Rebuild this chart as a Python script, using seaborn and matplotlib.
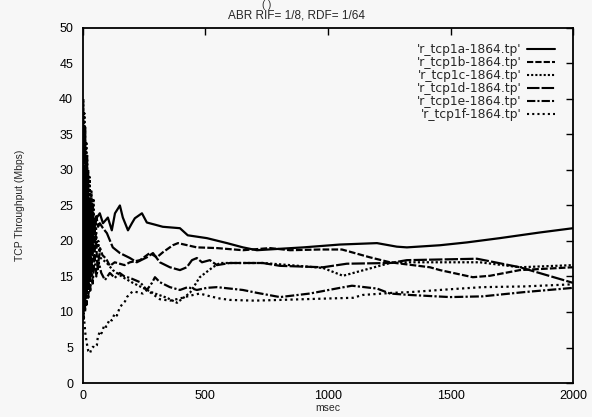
import pandas as pd
import seaborn as sns
import matplotlib.pyplot as plt

# throughput traces (msec, Mbps)
ms_a = [0, 3, 6, 9, 12, 15, 18, 21, 25, 30, 35, 40, 45, 50, 57, 69, 82, 102, 118, 131, 151, 163, 184, 200, 212,
        241, 261, 294, 326, 396, 428, 506, 588, 653, 710, 804, 900, 1049, 1200, 1281, 1322, 1457, 1567, 1701,
        1865, 2000]
tp_a = [10, 24, 12, 26, 14, 25, 16, 24, 18, 23, 20, 24, 21, 22.5, 23.3, 23.9, 22.5, 23.3, 21.5, 23.9, 25.0, 23.3,
        21.5, 22.5, 23.2, 23.9, 22.6, 22.3, 22.0, 21.8, 20.8, 20.4, 19.7, 19.1, 18.7, 18.9, 19.1, 19.5, 19.7, 19.2,
        19.1, 19.4, 19.8, 20.4, 21.2, 21.8]

ms_b = [0, 3, 6, 9, 12, 15, 18, 22, 26, 30, 35, 40, 46, 52, 60, 70, 80, 95, 110, 130, 150, 170, 192, 233, 273,
        302, 326, 367, 388, 465, 547, 653, 763, 845, 967, 1057, 1171, 1253, 1416, 1457, 1591, 1661, 1783, 2000]
tp_b = [15, 28, 14, 30, 12, 26, 16, 25, 17, 24, 16, 23, 17, 21, 16, 19, 18, 17.5, 16.5, 17, 16.8, 16.6, 17.0,
        17.3, 18.3, 17.7, 18.4, 19.4, 19.7, 19.1, 19.0, 18.7, 19.0, 18.7, 18.8, 18.8, 17.7, 17.0, 16.3, 15.9,
        14.9, 15.1, 15.9, 16.3]

ms_c = [0, 2, 4, 6, 8, 10, 12, 14, 16, 18, 20, 22, 25, 28, 31, 35, 39, 43, 47, 52, 58, 63, 69, 98, 122, 163,
        204, 245, 286, 343, 384, 437, 477, 530, 559, 600, 734, 845, 980, 1061, 1253, 1322, 1620, 1783, 2000]
tp_c = [25, 40, 22, 38, 18, 36, 16, 34, 14, 32, 13, 30, 15, 29, 17, 27, 18, 26, 19, 23, 19, 20, 17.7, 16.9,
        15.9, 14.9, 14.1, 13.4, 12.7, 12.0, 11.3, 12.7, 14.9, 16.3, 16.9, 16.9, 16.9, 16.6, 16.2, 15.1, 16.9,
        17.0, 17.0, 16.3, 16.6]

ms_d = [0, 4, 8, 12, 16, 20, 25, 30, 35, 40, 47, 55, 62, 69, 82, 98, 122, 151, 192, 220, 261, 286, 314, 355,
        396, 424, 445, 465, 486, 518, 547, 600, 734, 804, 980, 1077, 1253, 1322, 1608, 1783, 2000]
tp_d = [20, 33, 17, 30, 18, 28, 19, 26, 20, 25, 21, 23.5, 22, 22.5, 21.8, 21.1, 19.1, 18.3, 17.6, 17.0, 17.7,
        18.3, 17.0, 16.3, 15.9, 16.3, 17.3, 17.6, 17.0, 17.3, 16.6, 16.9, 16.9, 16.5, 16.3, 16.8, 16.9, 17.3,
        17.5, 16.3, 14.1]

ms_e = [0, 3, 6, 9, 12, 15, 18, 22, 26, 30, 35, 40, 48, 55, 65, 75, 90, 110, 130, 150, 170, 192, 233, 261, 282,
        294, 314, 355, 396, 428, 465, 506, 547, 653, 710, 804, 926, 1049, 1098, 1200, 1253, 1334, 1497, 1630,
        1800, 2000]
tp_e = [16, 9, 22, 10, 20, 11, 19, 12, 18, 13, 17, 14, 18, 15, 17, 15.5, 14.5, 15.5, 14.8, 15.5, 15.0, 14.8,
        14.2, 13.1, 14.1, 14.9, 14.2, 13.5, 13.1, 13.5, 13.1, 13.4, 13.5, 13.1, 12.7, 12.1, 12.6, 13.4, 13.7,
        13.3, 12.6, 12.4, 12.1, 12.2, 12.8, 13.4]

ms_f = [0, 5, 10, 16, 22, 29, 35, 41, 50, 57, 61, 70, 76, 88, 95, 110, 118, 130, 139, 150, 163, 172, 180, 192,
        205, 220, 245, 261, 290, 314, 355, 396, 437, 477, 520, 559, 600, 700, 804, 900, 1000, 1102, 1142, 1265,
        1334, 1497, 1630, 1800, 2000]
tp_f = [11, 9, 7, 5.6, 4.5, 4.2, 4.8, 5.1, 5.0, 5.3, 6.5, 7.3, 7.0, 8.2, 7.9, 9.0, 8.8, 9.8, 9.5, 10.6, 11.2,
        11.5, 12.1, 12.6, 12.9, 12.8, 12.6, 13.1, 12.4, 11.8, 11.6, 11.9, 12.3, 12.6, 12.2, 11.9, 11.7, 11.6,
        11.7, 11.8, 11.9, 12.0, 12.4, 12.7, 12.8, 13.2, 13.5, 13.6, 13.9]

labels = ["'r_tcp1a-1864.tp'", "'r_tcp1b-1864.tp'", "'r_tcp1c-1864.tp'",
          "'r_tcp1d-1864.tp'", "'r_tcp1e-1864.tp'", "'r_tcp1f-1864.tp'"]

frames = []
for lab, xs, ys in zip(labels, [ms_a, ms_b, ms_c, ms_d, ms_e, ms_f], [tp_a, tp_b, tp_c, tp_d, tp_e, tp_f]):
    frames.append(pd.DataFrame({'msec': xs, 'tp': ys, 'file': lab}))
df = pd.concat(frames, ignore_index=True)

sns.set_style('white')
plt.rcParams['font.family'] = ['Liberation Sans', 'DejaVu Sans']

fig = plt.figure(figsize=(5.92, 4.17), dpi=100)
fig.patch.set_facecolor('#f7f7f7')
ax = fig.add_axes([0.140, 0.0815, 0.828, 0.8515])
ax.set_facecolor('#f7f7f7')

dashes = {labels[0]: '', labels[1]: (3, 1), labels[2]: (1, 1),
          labels[3]: (6, 1), labels[4]: (4, 1, 1, 1), labels[5]: (1, 1.5)}
sns.lineplot(data=df, x='msec', y='tp', hue='file', style='file', dashes=dashes,
             palette=['black'] * 6, estimator=None, sort=False, linewidth=1.6, ax=ax)

ax.set_xlim(0, 2000)
ax.set_ylim(0, 50)
ax.set_xticks([0, 500, 1000, 1500, 2000])
ax.set_yticks(range(0, 51, 5))
ax.tick_params(direction='in', length=5, width=1, top=True, right=True, labelsize=9, colors='black')
ax.tick_params(axis='y', pad=7)
ax.tick_params(axis='x', pad=5)
for sp in ax.spines.values():
    sp.set_color('black')
    sp.set_linewidth(1.3)

ax.set_xlabel('msec', fontsize=7.5, labelpad=1)
ax.set_ylabel('TCP Throughput (Mbps)', fontsize=7.5, labelpad=0)
ax.yaxis.set_label_coords(-0.118, 0.5)

fig.text(0.5, 0.962, 'ABR RIF= 1/8, RDF= 1/64', ha='center', va='center', fontsize=8.5)
fig.text(0.451, 0.988, '( )', ha='center', va='center', fontsize=7)

leg = ax.legend(loc='upper right', bbox_to_anchor=(0.975, 0.975), frameon=False,
                prop={'family': 'DejaVu Sans', 'size': 8.8},
                markerfirst=False, labelspacing=0.0, handlelength=2.3, handletextpad=0.4, borderpad=0)
for line in leg.get_lines():
    line.set_linewidth(1.5)

plt.savefig('out.png', dpi=100, facecolor=fig.get_facecolor())
plt.close()
